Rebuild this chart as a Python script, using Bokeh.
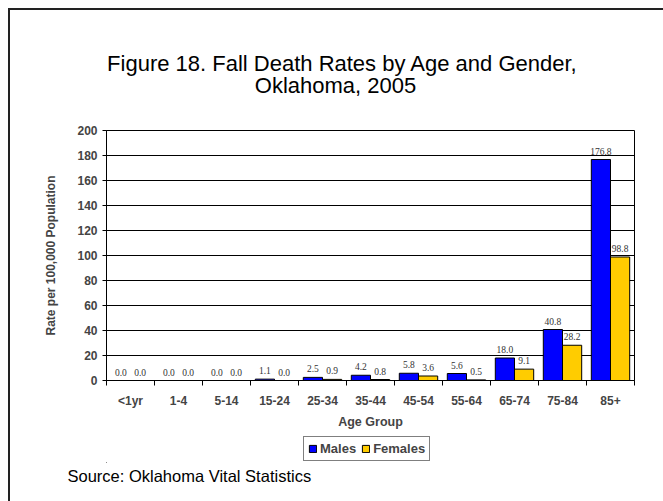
import numpy as np
from bokeh.plotting import figure
from bokeh.layouts import column
from bokeh.models import (Range1d, FixedTicker, ColumnDataSource, LabelSet, Label,
                          Legend, LegendItem, Title)
from bokeh.embed import file_html
from bokeh.resources import INLINE

categories = ["<1yr", "1-4", "5-14", "15-24", "25-34", "35-44", "45-54", "55-64", "65-74", "75-84", "85+"]
males = [0.0, 0.0, 0.0, 1.1, 2.5, 4.2, 5.8, 5.6, 18.0, 40.8, 176.8]
females = [0.0, 0.0, 0.0, 0.0, 0.9, 0.8, 3.6, 0.5, 9.1, 28.2, 98.8]
y_ticks = list(range(0, 201, 20))
series_names = ["Males", "Females"]
series_colors = ["#0000FF", "#FFCC00"]
title_lines = ["Figure 18. Fall Death Rates by Age and Gender,", "Oklahoma, 2005"]
source_text = "Source: Oklahoma Vital Statistics"

W = 653
idx = np.arange(len(categories))
centers = idx + 0.5
bw = 0.40
lab_font = "Liberation Sans"


def blank(height, **kw):
    f = figure(width=W, height=height, output_backend="svg", toolbar_location=None,
               x_range=Range1d(0, 1), y_range=Range1d(0, 1),
               x_axis_location=None, y_axis_location=None,
               min_border_left=96, min_border_right=29, **kw)
    f.outline_line_color = None
    f.grid.visible = False
    f.background_fill_color = "white"
    f.border_fill_color = "white"
    return f


# ---------------- title strip ----------------
t = blank(110, min_border_top=0, min_border_bottom=0)
t.add_layout(Label(x=236, y=57, x_units="screen", y_units="screen", text=title_lines[0],
                   text_align="center", text_baseline="middle",
                   text_font=lab_font, text_font_size="22px", text_color="black"))
t.add_layout(Label(x=229, y=35, x_units="screen", y_units="screen", text=title_lines[1],
                   text_align="center", text_baseline="middle",
                   text_font=lab_font, text_font_size="22px", text_color="black"))

# ---------------- main chart ----------------
src = ColumnDataSource(dict(
    xm=centers - bw / 2, xf=centers + bw / 2,
    m=males, f=females,
    ml=["%.1f" % v for v in males], fl=["%.1f" % v for v in females],
))

p = figure(width=W, height=312, output_backend="svg", toolbar_location=None,
           x_range=Range1d(0, len(categories)), y_range=Range1d(0, 200),
           min_border_left=96, min_border_right=29, min_border_top=10, min_border_bottom=52)
p.outline_line_color = "black"
p.outline_line_width = 1
p.background_fill_color = "white"
p.border_fill_color = "white"

p.vbar(x="xm", top="m", width=bw, source=src, fill_color=series_colors[0], line_color="black", line_width=1)
p.vbar(x="xf", top="f", width=bw, source=src, fill_color=series_colors[1], line_color="black", line_width=1)

for col, xcol, ycol in (("ml", "xm", "m"), ("fl", "xf", "f")):
    p.add_layout(LabelSet(x=xcol, y=ycol, text=col, source=src, y_offset=5,
                          text_align="center", text_baseline="bottom",
                          text_font=lab_font, text_font_size="9.5px", text_color="#333333"))

xa = p.xaxis[0]
xa.ticker = FixedTicker(ticks=list(centers), minor_ticks=list(range(len(categories) + 1)))
xa.major_label_overrides = {float(c): lab for c, lab in zip(centers, categories)}
xa.major_tick_line_color = None
xa.minor_tick_out = 5
xa.minor_tick_in = 0
xa.minor_tick_line_color = "black"
xa.axis_line_color = "black"
xa.major_label_text_font = lab_font
xa.major_label_text_font_style = "bold"
xa.major_label_text_font_size = "12px"
xa.major_label_standoff = 7
xa.axis_label = "Age Group"
xa.axis_label_text_font = lab_font
xa.axis_label_text_font_style = "bold"
xa.axis_label_text_font_size = "12.5px"
xa.axis_label_standoff = 4

ya = p.yaxis[0]
ya.ticker = FixedTicker(ticks=y_ticks)
ya.major_tick_out = 4
ya.major_tick_in = 0
ya.minor_tick_line_color = None
ya.axis_line_color = "black"
ya.major_label_text_font = lab_font
ya.major_label_text_font_style = "bold"
ya.major_label_text_font_size = "12px"
ya.major_label_standoff = 5
ya.axis_label = "Rate per 100,000 Population"
ya.axis_label_text_font = lab_font
ya.axis_label_text_font_style = "bold"
ya.axis_label_text_font_size = "12px"
ya.axis_label_standoff = 16

p.xgrid.grid_line_color = None
p.ygrid.grid_line_color = "black"
p.ygrid.grid_line_width = 1
p.ygrid.ticker = FixedTicker(ticks=y_ticks)

# ---------------- legend + source strip ----------------
q = blank(69, min_border_top=0, min_border_bottom=39)
proxy = ColumnDataSource(dict(x=[-100.0], top=[-100.0], bottom=[-100.0]))  # legend proxies, off-screen
items = []
for name, color in zip(series_names, series_colors):
    r = q.vbar(x="x", top="top", bottom="bottom", width=0.1, source=proxy,
               fill_color=color, line_color="black", line_width=1)
    items.append(LegendItem(label=name, renderers=[r]))

legend = Legend(items=items, orientation="horizontal", location=(197, 1),
                label_text_font=lab_font, label_text_font_style="bold",
                label_text_font_size="13px", glyph_width=9, glyph_height=9,
                padding=4, spacing=5, label_standoff=3, margin=0,
                border_line_color="black", border_line_width=1,
                label_height=14)
q.add_layout(legend)
q.add_layout(Title(text=source_text, align="left", offset=-39, standoff=4,
                   text_font=lab_font, text_font_size="16.5px", text_font_style="normal",
                   text_color="black"), "below")

layout = column(t, p, q, spacing=0)
layout.styles = {"margin-left": "8px", "margin-top": "8px",
                 "border-left": "2px solid #222", "border-top": "2px solid #222"}

open("out.html", "w").write(file_html(layout, INLINE))
